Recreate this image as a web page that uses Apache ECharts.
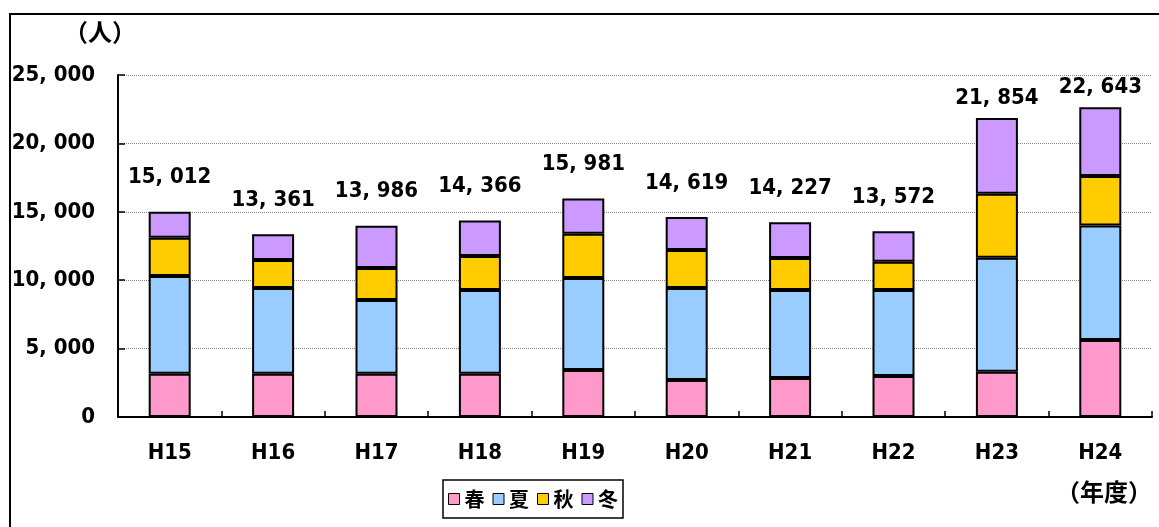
<!DOCTYPE html>
<html>
<head>
<meta charset="utf-8">
<script src="https://cdn.jsdelivr.net/npm/echarts@6/dist/echarts.min.js"></script>
<style>
  html, body { margin: 0; padding: 0; background: #fff; }
  #main { width: 1159px; height: 527px; }
</style>
</head>
<body>
<div id="main"></div>
<script>
// 年度
var years = ['H15', 'H16', 'H17', 'H18', 'H19', 'H20', 'H21', 'H22', 'H23', 'H24'];
// 季節別の人数
var spring = [3170, 3170, 3170, 3170, 3440, 2700, 2850, 3000, 3310, 5630];
var summer = [7140, 6260, 5380, 6110, 6720, 6730, 6430, 6280, 8330, 8360];
var autumn = [2800, 2050, 2340, 2490, 3240, 2780, 2340, 2070, 4680, 3630];
var winter = [1902, 1881, 3096, 2596, 2581, 2409, 2607, 2222, 5534, 5023];
// 合計
var totals = [15012, 13361, 13986, 14366, 15981, 14619, 14227, 13572, 21854, 22643];
var seasonNames = ['春', '夏', '秋', '冬'];
var seasonColors = ['#FF99CC', '#99CCFF', '#FFCC00', '#CC99FF'];

var numFont = "'DejaVu Sans Condensed', 'Liberation Sans Narrow', sans-serif";
var cjkFont = "'Noto Sans CJK JP', sans-serif";

// 3桁区切り（原図は「15, 012」の形）
function fmt(v) {
  return String(v).replace(/\B(?=(\d{3})+(?!\d))/g, ', ');
}

var myChart = echarts.init(document.getElementById('main'));

var seriesData = [spring, summer, autumn, winter];
var series = seriesData.map(function (arr, i) {
  var s = {
    name: seasonNames[i],
    type: 'bar',
    stack: 'total',
    barWidth: 42,
    data: arr,
    itemStyle: { color: seasonColors[i], borderColor: '#000', borderWidth: 2 }
  };
  if (i === 3) {
    s.data = arr.map(function (v, k) {
      return { value: v, label: { distance: totals[k] > 20000 ? 9 : 23 } };
    });
    s.label = {
      show: true,
      position: 'top',
      formatter: function (p) { return fmt(totals[p.dataIndex]); },
      fontFamily: numFont,
      fontWeight: 'bold',
      fontSize: 22,
      color: '#000'
    };
  }
  return s;
});

var option = {
  animation: false,
  backgroundColor: '#fff',
  grid: { left: 118, right: 7, top: 75, bottom: 110, outerBoundsMode: 'none' },
  legend: {
    data: seasonNames,
    left: 443,
    top: 480,
    orient: 'horizontal',
    itemWidth: 11,
    itemHeight: 11,
    itemGap: 8,
    padding: [9, 5, 9, 5],
    borderColor: '#000',
    borderWidth: 1.5,
    icon: 'rect',
    itemStyle: { borderColor: '#000', borderWidth: 1 },
    textStyle: { fontFamily: cjkFont, fontWeight: 'bold', fontSize: 20, color: '#000' }
  },
  xAxis: {
    type: 'category',
    data: years,
    axisLine: { lineStyle: { color: '#000', width: 2 } },
    axisTick: { show: true, inside: true, length: 6, lineStyle: { color: '#000', width: 1.5 } },
    axisLabel: {
      margin: 25,
      fontFamily: numFont,
      fontWeight: 'bold',
      fontSize: 22,
      color: '#000'
    }
  },
  yAxis: {
    type: 'value',
    min: 0,
    max: 25000,
    interval: 5000,
    axisLine: { show: true, lineStyle: { color: '#000', width: 2 } },
    axisTick: { show: true, inside: true, length: 7, lineStyle: { color: '#000', width: 1.5 } },
    splitLine: { show: true, lineStyle: { color: '#888', width: 1, type: 'dotted' } },
    axisLabel: {
      margin: 23,
      formatter: function (v) { return fmt(v); },
      fontFamily: numFont,
      fontWeight: 'bold',
      fontSize: 22,
      color: '#000'
    }
  },
  graphic: [
    {
      type: 'rect',
      shape: { x: 10, y: 14, width: 1300, height: 700 },
      style: { fill: 'none', stroke: '#000', lineWidth: 2 },
      silent: true
    },
    {
      type: 'text',
      left: 64,
      top: 20,
      style: { text: '（人）', fontFamily: cjkFont, fontWeight: 'bold', fontSize: 24, fill: '#000' }
    },
    {
      type: 'text',
      left: 1056,
      top: 480,
      style: { text: '（年度）', fontFamily: cjkFont, fontWeight: 'bold', fontSize: 24, fill: '#000' }
    }
  ],
  series: series
};

myChart.setOption(option);
</script>
</body>
</html>
